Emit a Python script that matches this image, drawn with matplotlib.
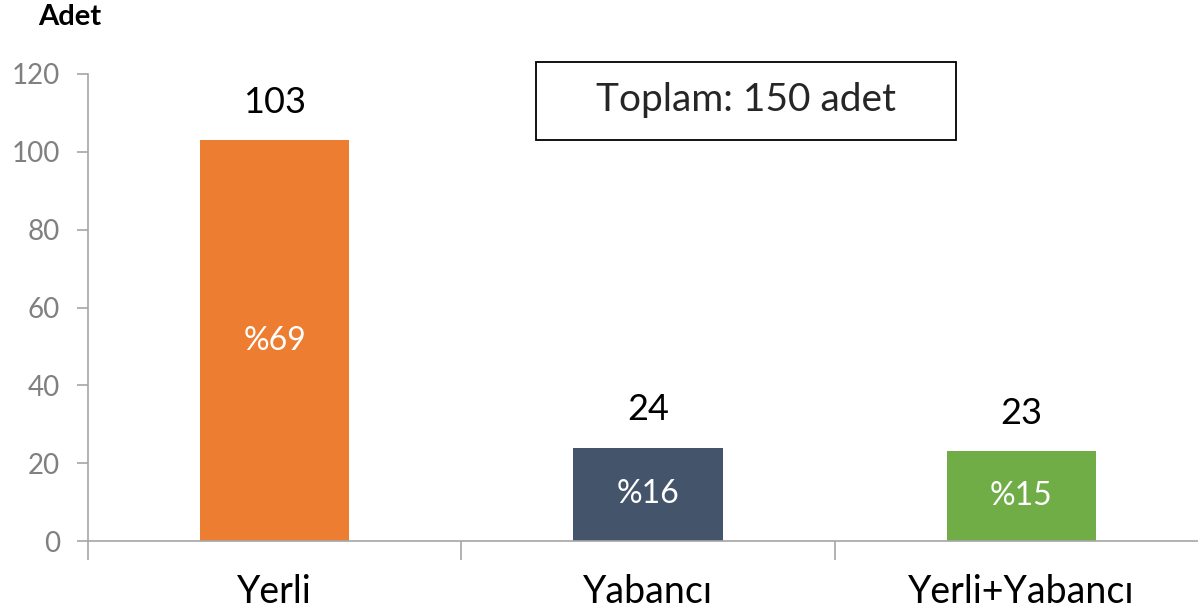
import matplotlib.pyplot as plt
import numpy as np
from matplotlib.patches import Rectangle

plt.rcParams['font.family'] = ['Lato', 'DejaVu Sans']

categories = ["Yerli", "Yabancı", "Yerli+Yabancı"]
counts = [103, 24, 23]
shares = ["%69", "%16", "%15"]
colors = ["#ED7D31", "#44546A", "#70AD47"]
total_text = "Toplam: 150 adet"

fig = plt.figure(figsize=(11.98, 6.15), dpi=100)
ax = fig.add_axes([88 / 1198, 74 / 615, 1 - 88 / 1198, (541 - 74) / 615])

x = np.arange(len(categories))
bars = ax.bar(x, counts, width=0.4, color=colors, zorder=2)

for xi, c, s in zip(x, counts, shares):
    ax.text(xi, c + 5.5, str(c), ha="center", va="bottom", fontsize=26, color="black")
    ax.text(xi, c / 2, s, ha="center", va="center", fontsize=23, color="white")

ax.set_ylim(0, 120)
ax.set_xlim(-0.5, 2.5 - 10 / 373)
ax.set_yticks(np.arange(0, 121, 20))
ax.set_xticks([-0.5, 0.5, 1.5])
ax.set_xticklabels([])
ax.set_xticks(x, minor=True)
ax.set_xticklabels(categories, minor=True, fontsize=27)
ax.tick_params(axis="x", which="minor", length=0, pad=24)
ax.tick_params(axis="x", which="major", length=14, width=1.2, color="#A6A6A6")
ax.tick_params(axis="y", length=8, width=1.2, color="#A6A6A6", labelsize=20,
               labelcolor="#808080", pad=12)

for side in ["top", "right"]:
    ax.spines[side].set_visible(False)
for side in ["left", "bottom"]:
    ax.spines[side].set_color("#A6A6A6")
    ax.spines[side].set_linewidth(1.2)

fig.text(38 / 1198, 1 - 17 / 615, "Adet", fontsize=21, fontweight="bold",
         ha="left", va="center")

# total box
box = Rectangle((0.701, 103.0), 1.123, 20.1, facecolor="white", edgecolor="black",
                linewidth=1.3, clip_on=False, zorder=3)
ax.add_patch(box)
ax.text(0.701 + 1.123 / 2, 113.3, total_text, ha="center", va="center", fontsize=28,
        color="#262626", zorder=4)

fig.savefig("out.png", dpi=100)
